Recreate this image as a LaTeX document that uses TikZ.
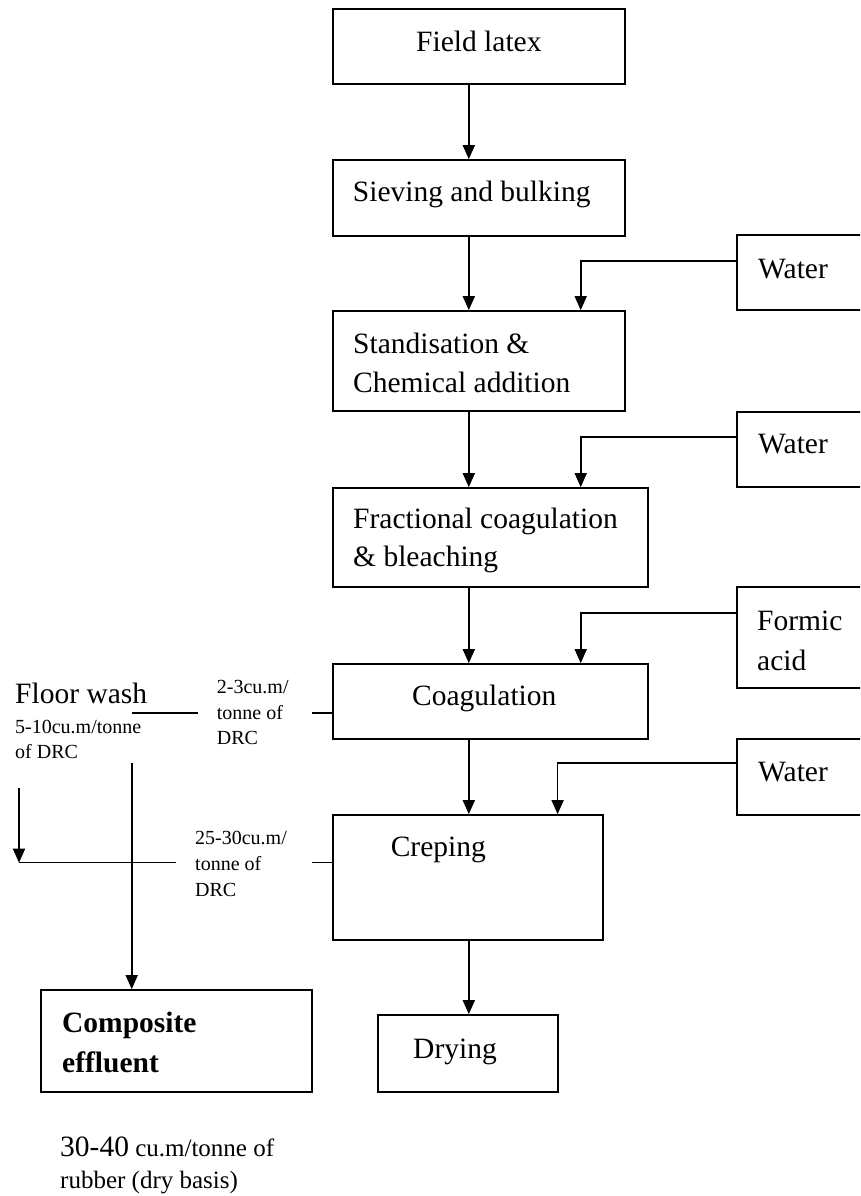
\documentclass[tikz,border=0pt]{standalone}
\usepackage{fontspec}
\setmainfont{Liberation Serif}
\usetikzlibrary{arrows.meta}
\newcommand\bigf{\fontsize{29.5}{36}\selectfont}
\newcommand\smallf{\fontsize{20}{25.5}\selectfont}
\newcommand\midf{\fontsize{25}{31}\selectfont}
\begin{document}
\begin{tikzpicture}[x=1pt,y=-1pt,
  box/.style={draw, line width=1.7pt, inner sep=0pt, rectangle},
  txt/.style={anchor=base west, inner sep=0pt, font=\bigf},
  stxt/.style={anchor=base west, inner sep=0pt, font=\smallf},
  arr/.style={line width=1.6pt, -{Triangle[length=14pt,width=12pt]}},
  ln/.style={line width=1.5pt}]
\useasboundingbox (0,0) rectangle (860,1196);
\fill[white] (0,0) rectangle (860,1196);
\clip (0,0) rectangle (860,1196);

% main process boxes
\node[box, minimum width=292.3pt, minimum height=75.3pt] (fl) at (478.85,46.65) {};
\node[box, minimum width=292.3pt, minimum height=76pt] (sb) at (478.85,198) {};
\node[box, minimum width=292.3pt, minimum height=100pt] (std) at (478.85,361) {};
\node[box, minimum width=315.1pt, minimum height=99pt] (fr) at (490.25,537.5) {};
\node[box, minimum width=315.1pt, minimum height=75pt] (coag) at (490.25,701.5) {};
\node[box, minimum width=270.3pt, minimum height=125pt] (crep) at (467.85,877.5) {};
\node[box, minimum width=180pt, minimum height=77pt] (dry) at (468,1053.5) {};
\node[box, minimum width=271pt, minimum height=102pt] (comp) at (176.5,1041) {};

% input boxes (cut by the right edge)
\node[box, minimum width=153pt, minimum height=75pt] (w1) at (813.5,272.5) {};
\node[box, minimum width=153pt, minimum height=75pt] (w2) at (813.5,449.5) {};
\node[box, minimum width=153pt, minimum height=101pt] (fa) at (813.5,637.5) {};
\node[box, minimum width=153pt, minimum height=76pt] (w3) at (813.5,777) {};

% box texts
\node[txt] (flt) at (416,51.7) {Field latex};
\node[txt] (sbt) at (352.7,201.7) {Sieving and bulking};
\node[txt] (stdt1) at (353,353.3) {Standisation \&};
\node[txt] (stdt2) at (353,392.7) {Chemical addition};
\node[txt] (frt1) at (353,528) {Fractional coagulation};
\node[txt] (frt2) at (353,566.7) {\& bleaching};
\node[txt] (coagt) at (412,705.7) {Coagulation};
\node[txt] (crept) at (390.6,856.7) {Creping};
\node[txt] (dryt) at (413,1058) {Drying};
\node[txt] (compt1) at (62,1032.7) {\bfseries Composite};
\node[txt] (compt2) at (62,1072) {\bfseries effluent};
\node[txt] (w1t) at (758,278) {Water};
\node[txt] (w2t) at (758,453) {Water};
\node[txt] (fat1) at (757,630) {Formic};
\node[txt] (fat2) at (757,670) {acid};
\node[txt] (w3t) at (758,781.7) {Water};

% left-side texts
\node[txt] (fw) at (15,703) {Floor wash};
\node[stxt] (fw2) at (15,733) {5-10cu.m/tonne};
\node[stxt] (fw3) at (15,758) {of DRC};
\node[stxt] (l1a) at (216.7,693.3) {2-3cu.m/};
\node[stxt] (l1b) at (216.7,719.5) {tonne of};
\node[stxt] (l1c) at (216.7,744.5) {DRC};
\node[stxt] (l2a) at (195,844.5) {25-30cu.m/};
\node[stxt] (l2b) at (195,870.5) {tonne of};
\node[stxt] (l2c) at (195,896.5) {DRC};
\node[txt] (tot1) at (60,1156.7) {30-40{\midf\ cu.m/tonne of}};
\node[anchor=base west, inner sep=0pt, font=\midf] (tot2) at (60,1188) {rubber (dry basis)};

% main flow
\coordinate (mx) at (468.8,0);
\coordinate (ax) at (580.7,0);
\coordinate (bx) at (557.6,0);
\draw[arr] (fl.south -| mx) -- (sb.north -| mx);
\draw[arr] (sb.south -| mx) -- (std.north -| mx);
\draw[arr] (std.south -| mx) -- (fr.north -| mx);
\draw[arr] (fr.south -| mx) -- (coag.north -| mx);
\draw[arr] (coag.south -| mx) -- (crep.north -| mx);
\draw[arr] (crep.south -| mx) -- (dry.north -| mx);

% inputs
\draw[arr] ([yshift=11.5pt]w1.west) -| (std.north -| ax);
\draw[arr] ([yshift=12.5pt]w2.west) -| (fr.north -| ax);
\draw[arr] ([yshift=24.5pt]fa.west) -| (coag.north -| ax);
\draw[arr] ([yshift=14pt]w3.west) -| (crep.north -| bx);

% effluent side
\coordinate (c1a) at (131.7,713);
\coordinate (c1b) at (198,713);
\coordinate (c1c) at (311.7,713);
\draw[ln] (c1a) -- (c1b);
\draw[ln] (c1c) -- (c1c -| coag.west);
\coordinate (c2a) at (19,862.7);
\coordinate (c2b) at (176,862.7);
\coordinate (c2c) at (311.7,862.7);
\draw[ln] (c2a) -- (c2b);
\draw[ln] (c2c) -- (c2c -| crep.west);
\coordinate (la) at (19,788);
\draw[arr] (la) -- (c2a);
\coordinate (vt) at (131.7,763.3);
\draw[arr] (vt) -- (comp.north -| vt);
\end{tikzpicture}
\end{document}
